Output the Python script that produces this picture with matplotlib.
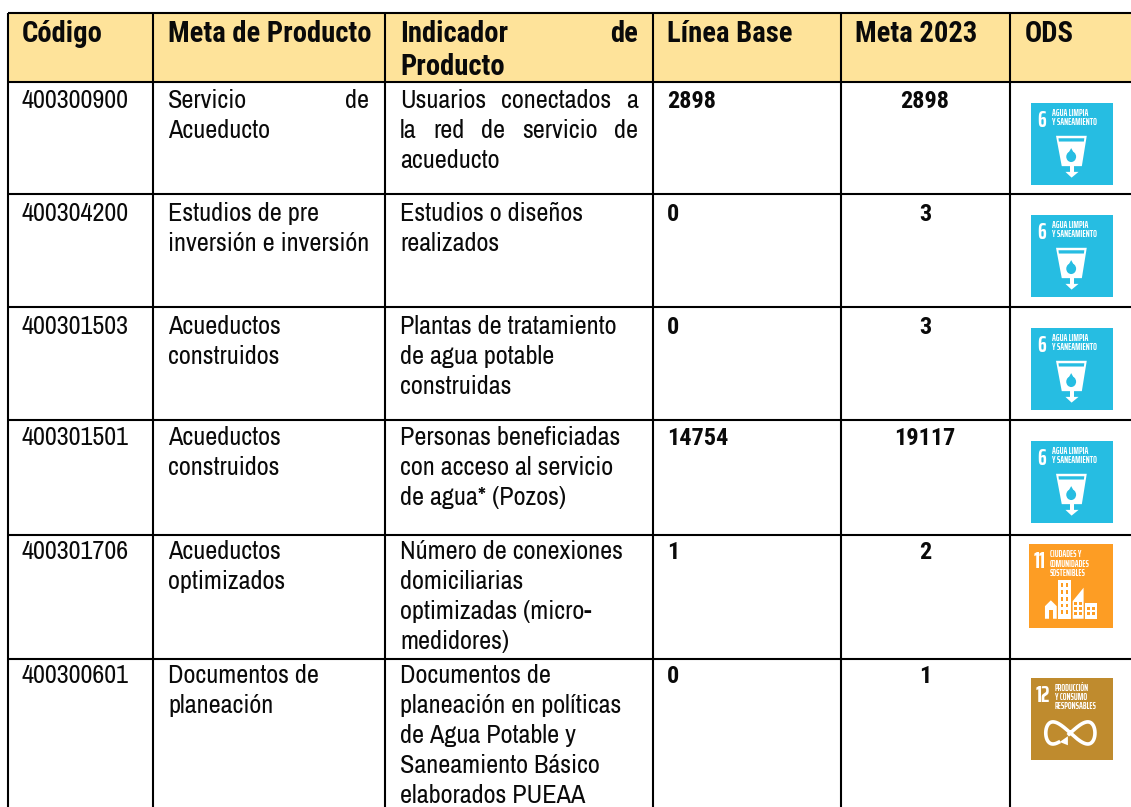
import numpy as np
import matplotlib
matplotlib.use('Agg')
import matplotlib.pyplot as plt
from matplotlib.patches import Rectangle, Polygon, Ellipse

# table content
headers = ['Código', 'Meta de Producto', 'Indicador de\nProducto', 'Línea Base', 'Meta 2023', 'ODS']
codigos = ['400300900', '400304200', '400301503', '400301501', '400301706', '400300601']
metas = ['Servicio de\nAcueducto', 'Estudios de pre\ninversión e inversión', 'Acueductos\nconstruidos',
         'Acueductos\nconstruidos', 'Acueductos\noptimizados', 'Documentos de\nplaneación']
indicadores = ['Usuarios conectados a\nla red de servicio de\nacueducto',
               'Estudios o diseños\nrealizados',
               'Plantas de tratamiento\nde agua potable\nconstruidas',
               'Personas beneficiadas\ncon acceso al servicio\nde agua* (Pozos)',
               'Número de conexiones\ndomiciliarias\noptimizadas (micro-\nmedidores)',
               'Documentos de\nplaneación en políticas\nde Agua Potable y\nSaneamiento Básico\nelaborados PUEAA']
linea_base = ['2898', '0', '0', '14754', '1', '0']
meta_2023 = ['2898', '3', '3', '19117', '2', '1']
ods = [6, 6, 6, 6, 11, 12]

# layout in pixels
W, H = 1131, 807
col_x = [8, 153, 385, 653, 841, 1010]
row_y = [13, 81.5, 193.5, 306.5, 420, 535, 659]
text_x = [22, 168, 400, 667, 855, 1025]
col_r = [None, 369, 638, None, None, None]
first_base = [108, 221, 334, 445, 559, 683]
line_h = 30
icon_box = [(1031, 103), (1031, 215), (1031, 328), (1031, 441), (1029, 544), (1031, 678)]
icon_size = 82
body_font = 'Archivo Narrow'
bold_font = 'Roboto Condensed'
icon_font = 'Saira ExtraCondensed'
body_size = 18.9
head_size = 20.6
num_size = 17.5
ink = '#0a0a0a'
head_fill = '#fee39a'
ods_colors = {6: '#26bde2', 11: '#fd9d24', 12: '#bf8b2e'}
ods_names = {6: 'AGUA LIMPIA\nY SANEAMIENTO', 11: 'CIUDADES Y\nCOMUNIDADES\nSOSTENIBLES',
             12: 'PRODUCCIÓN\nY CONSUMO\nRESPONSABLES'}

fig = plt.figure(figsize=(W / 100, H / 100), dpi=100)
ax = fig.add_axes([0, 0, 1, 1])
ax.set_xlim(0, W)
ax.set_ylim(H, 0)
ax.axis('off')


def justified(line, x0, x1, y, **kw):
    # spread the words of one line out to both cell edges
    words = line.split()
    items = [ax.text(0, y, w, va='baseline', **kw) for w in words]
    r = fig.canvas.get_renderer()
    widths = [t.get_window_extent(r).width for t in items]
    gap = (x1 - x0 - sum(widths)) / (len(words) - 1)
    x = x0
    for t, w in zip(items, widths):
        t.set_x(x)
        x += w + gap


def draw_lines(text, x, y, right=None, n_just=0, step=line_h, **kw):
    for k, line in enumerate(text.split('\n')):
        yy = y + k * step
        if right is not None and k < n_just:
            justified(line, x, right, yy, **kw)
        else:
            ax.text(x, yy, line, va='baseline', **kw)


def icon_6(x, y, s):
    def p(u, v):
        return (x + u * s, y + v * s)
    ax.add_patch(Polygon([p(.305, .40), p(.68, .40), p(.62, .77), p(.375, .77)], fc='white', ec='none'))
    ax.add_patch(Polygon([p(.335, .43), p(.65, .43), p(.645, .47), p(.34, .47)], fc=ods_colors[6], ec='none'))
    ax.add_patch(Ellipse(p(.49, .655), .12 * s, .13 * s, fc=ods_colors[6], ec='none'))
    ax.add_patch(Polygon([p(.49, .55), p(.44, .64), p(.54, .64)], fc=ods_colors[6], ec='none'))
    ax.add_patch(Rectangle(p(.47, .77), .05 * s, .09 * s, fc='white', ec='none'))
    ax.add_patch(Polygon([p(.42, .84), p(.58, .84), p(.495, .91)], fc='white', ec='none'))


def icon_11(x, y, s):
    def p(u, v):
        return (x + u * s, y + v * s)
    c = ods_colors[11]
    ax.add_patch(Polygon([p(.19, .89), p(.19, .74), p(.26, .67), p(.33, .74), p(.33, .89)], fc='white', ec='none'))
    ax.add_patch(Rectangle(p(.235, .79), .05 * s, .10 * s, fc=c, ec='none'))
    ax.add_patch(Rectangle(p(.35, .43), .15 * s, .46 * s, fc='white', ec='none'))
    for i in range(2):
        for j in range(5):
            ax.add_patch(Rectangle(p(.375 + i * .06, .47 + j * .08), .035 * s, .045 * s, fc=c, ec='none'))
    ax.add_patch(Polygon([p(.52, .89), p(.52, .68), p(.65, .52), p(.65, .89)], fc='white', ec='none'))
    for i in range(2):
        for j in range(3):
            ax.add_patch(Rectangle(p(.54 + i * .055, .69 + j * .06), .035 * s, .035 * s, fc=c, ec='none'))
    ax.add_patch(Rectangle(p(.665, .70), .145 * s, .19 * s, fc='white', ec='none'))
    for u in (.685, .745):
        for v in (.75, .81):
            ax.add_patch(Rectangle(p(u, v), .045 * s, .04 * s, fc=c, ec='none'))


def icon_12(x, y, s):
    # infinity sign with a small arrow head
    t = np.linspace(np.pi + 0.5, 3 * np.pi + 0.05, 200)
    cx, cy = x + .48 * s, y + .67 * s
    ax.plot(cx + .30 * s * np.sin(t), cy + .135 * s * np.sin(2 * t), color='white', lw=2.6)
    ax.add_patch(Polygon([(x + .45 * s, y + .71 * s), (x + .45 * s, y + .82 * s), (x + .35 * s, y + .78 * s)],
                         fc='white', ec='none'))


def draw_icon(goal, x, y, s):
    ax.add_patch(Rectangle((x, y), s, s, fc=ods_colors[goal], ec='none', zorder=1))
    num_x = {6: .08, 11: .05, 12: .06}[goal]
    ax.text(x + num_x * s, y + {6: .29, 11: .29, 12: .29}[goal] * s, str(goal), color='white', fontsize=16,
            family=icon_font, fontweight='bold', va='baseline')
    tx = x + {6: .26, 11: .25, 12: .29}[goal] * s
    for k, line in enumerate(ods_names[goal].split('\n')):
        ax.text(tx, y + (.16 + k * .11) * s, line, color='white', fontsize=6.6, family=icon_font, fontweight='bold',
                va='baseline')
    {6: icon_6, 11: icon_11, 12: icon_12}[goal](x, y, s)


# header band
ax.add_patch(Rectangle((col_x[0], row_y[0]), W - col_x[0], row_y[1] - row_y[0], fc=head_fill, ec='none', zorder=0))

# grid lines
for x in col_x:
    ax.plot([x, x], [row_y[0], H], color='black', lw=1.5, solid_capstyle='butt', zorder=3)
for y in row_y:
    ax.plot([col_x[0], W], [y, y], color='black', lw=1.5, solid_capstyle='butt', zorder=3)

head_kw = dict(fontsize=head_size, family=bold_font, fontweight='bold', color=ink)
body_kw = dict(fontsize=body_size, family=body_font, color=ink)
num_kw = dict(fontsize=num_size, family=bold_font, fontweight='bold', color=ink)

# header text
for j, h in enumerate(headers):
    draw_lines(h, text_x[j], 42, right=col_r[j] if j == 2 else None, n_just=1 if j == 2 else 0, step=33, **head_kw)

# body rows
for i in range(len(codigos)):
    y = first_base[i]
    ax.text(text_x[0], y, codigos[i], va='baseline', **body_kw)
    draw_lines(metas[i], text_x[1], y, right=col_r[1], n_just=1 if i == 0 else 0, **body_kw)
    draw_lines(indicadores[i], text_x[2], y, right=col_r[2], n_just=2 if i == 0 else 0, **body_kw)
    ax.text(text_x[3], y, linea_base[i], va='baseline', **num_kw)
    ax.text(925, y, meta_2023[i], va='baseline', ha='center', **num_kw)
    draw_icon(ods[i], icon_box[i][0], icon_box[i][1], icon_size + (2 if ods[i] == 11 else 0))

fig.savefig('out.png', dpi=100)
